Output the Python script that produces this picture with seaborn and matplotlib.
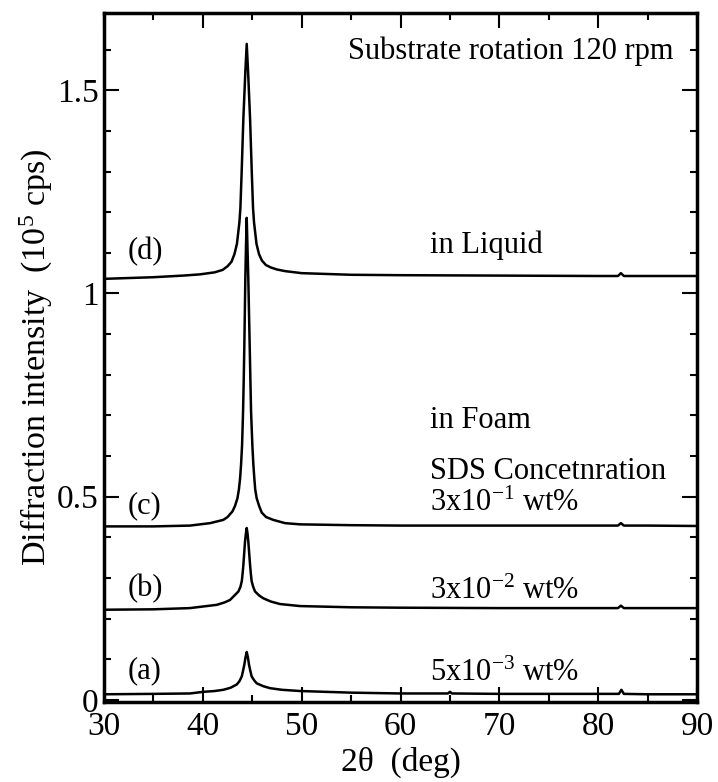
import matplotlib
matplotlib.use("Agg")
import matplotlib.pyplot as plt
from matplotlib.ticker import MultipleLocator
import seaborn as sns
import pandas as pd

# ---- data (2theta in deg, intensity in 10^5 cps) ----
a_x = [30, 35, 38.7, 40.05, 41.2, 42.07, 42.8, 43.43, 43.7, 43.94, 44.07, 44.2, 44.32, 44.44,
       44.56, 44.67, 44.8, 44.94, 45.2, 45.45, 46.1, 46.8, 48.0, 49.84, 55, 60, 64.8, 65.0,
       65.2, 70, 80, 82.1, 82.35, 82.6, 85, 90]
a_y = [0.014, 0.015, 0.016, 0.020, 0.022, 0.025, 0.030, 0.038, 0.046, 0.058, 0.072, 0.087, 0.105, 0.118,
       0.105, 0.087, 0.072, 0.058, 0.048, 0.041, 0.034, 0.029, 0.025, 0.022, 0.018, 0.016, 0.016, 0.020,
       0.016, 0.015, 0.015, 0.015, 0.025, 0.015, 0.014, 0.014]

b_x = [30, 35, 38.7, 41.4, 42.2, 42.75, 43.2, 43.6, 43.8, 43.94, 44.02, 44.1, 44.27, 44.36, 44.44,
       44.52, 44.6, 44.78, 44.86, 44.94, 45.1, 45.28, 45.7, 46.13, 46.9, 47.81, 49.84, 55, 60, 70,
       80, 82.0, 82.3, 82.6, 85, 90]
b_y = [0.222, 0.223, 0.226, 0.234, 0.240, 0.246, 0.257, 0.267, 0.278, 0.292, 0.310, 0.332, 0.390, 0.410, 0.423,
       0.410, 0.390, 0.332, 0.310, 0.292, 0.278, 0.267, 0.257, 0.250, 0.242, 0.236, 0.231, 0.228, 0.227, 0.226,
       0.226, 0.226, 0.232, 0.226, 0.226, 0.226]

c_x = [30, 35, 38.7, 40.73, 42.07, 42.5, 43.0, 43.25, 43.5, 43.65, 43.77, 43.87, 43.97, 44.07, 44.14,
       44.2, 44.3, 44.37, 44.44, 44.51, 44.6, 44.74, 44.81, 44.88, 45.01, 45.11, 45.21, 45.3, 45.45,
       45.7, 45.96, 46.4, 47.13, 48.32, 49.84, 55, 60, 70, 80, 82.0, 82.3, 82.6, 85, 90]
c_y = [0.427, 0.427, 0.429, 0.435, 0.443, 0.450, 0.464, 0.477, 0.496, 0.518, 0.545, 0.580, 0.627, 0.709, 0.790,
       0.873, 1.037, 1.120, 1.186, 1.120, 1.037, 0.873, 0.790, 0.709, 0.627, 0.580, 0.545, 0.518, 0.496,
       0.477, 0.461, 0.450, 0.443, 0.435, 0.432, 0.430, 0.429, 0.429, 0.429, 0.429, 0.435, 0.429, 0.429, 0.428]

d_x = [30, 35, 38, 39.7, 41.2, 42.0, 42.5, 42.9, 43.2, 43.45, 43.7, 43.8, 43.93, 44.1, 44.3, 44.44,
       44.58, 44.78, 44.95, 45.08, 45.18, 45.43, 45.68, 45.98, 46.38, 46.88, 47.5, 48.32, 50, 55, 60, 70, 80,
       82.0, 82.3, 82.6, 85, 90]
d_y = [1.036, 1.040, 1.044, 1.047, 1.052, 1.058, 1.067, 1.078, 1.097, 1.122, 1.175, 1.210, 1.300, 1.430, 1.545, 1.614,
       1.545, 1.430, 1.300, 1.210, 1.175, 1.122, 1.097, 1.081, 1.070, 1.064, 1.059, 1.055, 1.050, 1.046, 1.045, 1.044, 1.043,
       1.043, 1.050, 1.043, 1.043, 1.043]

series_names = ["(a)", "(b)", "(c)", "(d)"]
series_x = [a_x, b_x, c_x, d_x]
series_y = [a_y, b_y, c_y, d_y]

label_x = [32.4, 32.4, 32.4, 32.4]
label_y = [0.071, 0.275, 0.479, 1.103]

x_ticks = [30, 40, 50, 60, 70, 80, 90]
y_ticks = [0, 0.5, 1, 1.5]
y_ticklabels = ["0", "0.5", "1", "1.5"]

# ---- style ----
sns.set_theme(style="ticks")
plt.rcParams["font.family"] = ["Liberation Serif", "DejaVu Serif"]
plt.rcParams["mathtext.fontset"] = "custom"
plt.rcParams["mathtext.rm"] = "Liberation Serif"
plt.rcParams["mathtext.it"] = "Liberation Serif:italic"
plt.rcParams["mathtext.bf"] = "Liberation Serif:bold"
plt.rcParams["text.color"] = "black"
plt.rcParams["axes.labelcolor"] = "black"
plt.rcParams["xtick.color"] = "black"
plt.rcParams["ytick.color"] = "black"

fig = plt.figure(figsize=(7.18, 7.82), dpi=100)
ax = fig.add_axes([104 / 718, 1 - 702 / 782, (697 - 104) / 718, (702 - 13) / 782])

for name, xs, ys in zip(series_names, series_x, series_y):
    df = pd.DataFrame({"two_theta": xs, "intensity": ys})
    sns.lineplot(data=df, x="two_theta", y="intensity", ax=ax, color="black",
                 linewidth=1.8, sort=False, estimator=None)

ax.set_xlim(30, 90)
ax.set_ylim(-0.005, 1.69)
ax.set_xticks(x_ticks)
ax.set_yticks(y_ticks)
ax.set_yticklabels(y_ticklabels)
ax.xaxis.set_minor_locator(MultipleLocator(5))
ax.yaxis.set_minor_locator(MultipleLocator(0.1))

ax.tick_params(which="both", direction="in", top=True, right=True, colors="black",
               labelsize=24)
ax.tick_params(which="major", length=11, width=1.5)
ax.tick_params(which="minor", length=5, width=1.5)
ax.tick_params(axis="x", which="major", pad=7)
ax.tick_params(axis="y", which="major", pad=4)
for s in ax.spines.values():
    s.set_linewidth(2.5)
    s.set_color("black")
    s.set_visible(True)

ax.set_xlabel("2θ  (deg)", fontsize=24, labelpad=3, color="black")
ax.set_ylabel("Diffraction intensity  (10$^{5}$ cps)", fontsize=24.5, labelpad=1, color="black")

fs = 22
for name, lx, ly in zip(series_names, label_x, label_y):
    ax.text(lx, ly, name, fontsize=fs, ha="left", va="center", color="black")

ax.text(87.6, 1.595, "Substrate rotation 120 rpm", fontsize=fs, ha="right", va="center", color="black")
ax.text(63.0, 1.118, "in Liquid", fontsize=fs, ha="left", va="center", color="black")
ax.text(63.0, 0.688, "in Foam", fontsize=fs, ha="left", va="center", color="black")
ax.text(63.0, 0.563, "SDS Concetnration", fontsize=fs, ha="left", va="center", color="black")
ax.text(63.0, 0.484, "3x10$^{-1}$ wt%", fontsize=fs, ha="left", va="center", color="black")
ax.text(63.0, 0.266, "3x10$^{-2}$ wt%", fontsize=fs, ha="left", va="center", color="black")
ax.text(63.0, 0.066, "5x10$^{-3}$ wt%", fontsize=fs, ha="left", va="center", color="black")

fig.savefig("out.png", dpi=100, facecolor="white")
